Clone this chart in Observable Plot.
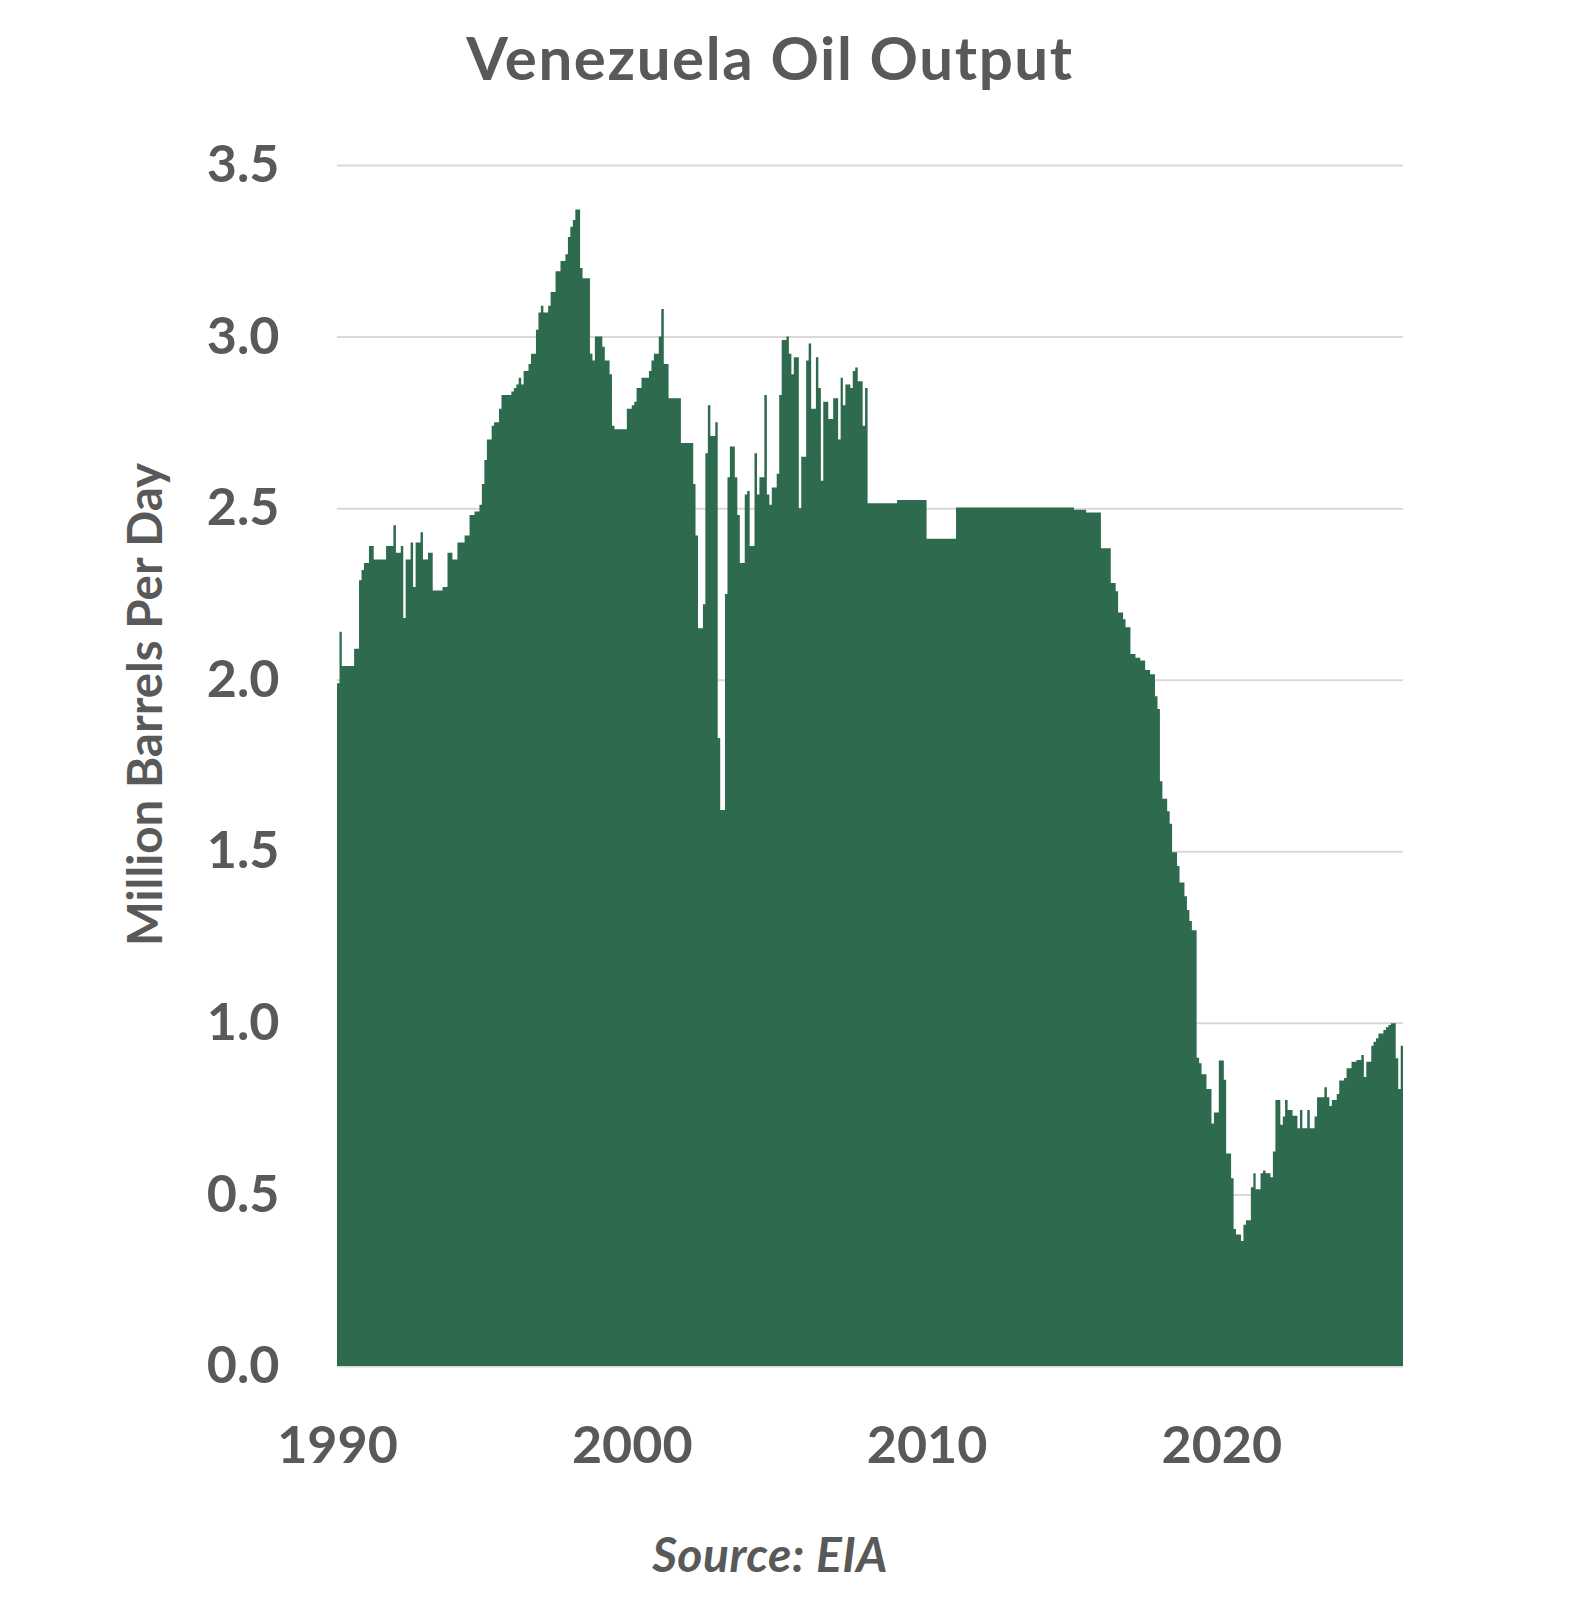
<!DOCTYPE html>
<html>
<head>
<meta charset="utf-8">
<script src="https://cdn.jsdelivr.net/npm/d3@7"></script>
<script src="https://cdn.jsdelivr.net/npm/@observablehq/plot@0.6"></script>
<style>
  body { margin: 0; background: #ffffff; }
  #wrap { position: relative; width: 1584px; height: 1610px; font-family: Lato, sans-serif; color: #595959; }
  #title { position: absolute; left: 770px; top: 21px; transform: translateX(-50%); font-size: 60px; font-weight: 700; white-space: nowrap; letter-spacing: 1.6px; }
  #chart { position: absolute; left: 0; top: 100px; }
  #source { position: absolute; left: 770px; top: 1525px; transform: translateX(-50%); font-size: 48px; font-weight: 700; font-style: italic; white-space: nowrap; letter-spacing: 0.5px; }
</style>
</head>
<body>
<div id="wrap">
  <div id="title">Venezuela Oil Output</div>
  <div id="chart"></div>
  <div id="source">Source: EIA</div>
</div>
<script>
// Monthly output, million barrels per day, starting January 1990
const startYear = 1990;
const output1990s = [
  1.99, 2.14, 2.04, 2.04, 2.04, 2.04, 2.04, 2.09, 2.09, 2.29, 2.32, 2.34,
  2.34, 2.39, 2.39, 2.35, 2.35, 2.35, 2.35, 2.35, 2.39, 2.39, 2.39, 2.45,
  2.37, 2.37, 2.39, 2.18, 2.35, 2.35, 2.40, 2.27, 2.40, 2.40, 2.43, 2.35,
  2.35, 2.37, 2.37, 2.26, 2.26, 2.26, 2.26, 2.27, 2.27, 2.37, 2.37, 2.35,
  2.35, 2.40, 2.40, 2.40, 2.42, 2.42, 2.48, 2.48, 2.49, 2.49, 2.51, 2.57,
  2.64, 2.70, 2.70, 2.74, 2.75, 2.75, 2.79, 2.83, 2.83, 2.83, 2.83, 2.84,
  2.85, 2.86, 2.88, 2.86, 2.90, 2.90, 2.92, 2.95, 2.95, 3.02, 3.07, 3.09,
  3.07, 3.07, 3.09, 3.13, 3.13, 3.19, 3.19, 3.22, 3.22, 3.24, 3.29, 3.32,
  3.34, 3.37, 3.37, 3.20, 3.17, 3.17, 3.17, 2.95, 2.93, 3.00, 3.00, 3.00,
  2.97, 2.93, 2.93, 2.89, 2.74, 2.73, 2.73, 2.73, 2.73, 2.73, 2.79, 2.79
];
const output2000s = [
  2.80, 2.81, 2.85, 2.85, 2.88, 2.88, 2.88, 2.90, 2.93, 2.95, 2.95, 3.00,
  3.08, 2.92, 2.92, 2.82, 2.82, 2.82, 2.82, 2.82, 2.69, 2.69, 2.69, 2.69,
  2.69, 2.57, 2.42, 2.15, 2.15, 2.22, 2.66, 2.80, 2.71, 2.71, 2.75, 1.83,
  1.62, 1.62, 2.25, 2.59, 2.68, 2.68, 2.59, 2.48, 2.34, 2.34, 2.54, 2.55,
  2.39, 2.39, 2.66, 2.54, 2.59, 2.59, 2.83, 2.54, 2.51, 2.56, 2.56, 2.60,
  2.83, 2.99, 2.99, 3.00, 2.95, 2.89, 2.94, 2.94, 2.50, 2.65, 2.65, 2.93,
  2.98, 2.79, 2.79, 2.94, 2.85, 2.58, 2.81, 2.81, 2.76, 2.76, 2.82, 2.82,
  2.70, 2.88, 2.80, 2.86, 2.86, 2.85, 2.90, 2.91, 2.87, 2.87, 2.74, 2.85,
  2.514, 2.514, 2.514, 2.514, 2.514, 2.514, 2.514, 2.514, 2.514, 2.514, 2.514, 2.514,
  2.524, 2.524, 2.524, 2.524, 2.524, 2.524, 2.524, 2.524, 2.524, 2.524, 2.524, 2.524
];
const output2010s = [
  2.411, 2.411, 2.411, 2.411, 2.411, 2.411, 2.411, 2.411, 2.411, 2.411, 2.411, 2.411,
  2.502, 2.502, 2.502, 2.502, 2.502, 2.502, 2.502, 2.502, 2.502, 2.502, 2.502, 2.502,
  2.502, 2.502, 2.502, 2.502, 2.502, 2.502, 2.502, 2.502, 2.502, 2.502, 2.502, 2.502,
  2.502, 2.502, 2.502, 2.502, 2.502, 2.502, 2.502, 2.502, 2.502, 2.502, 2.502, 2.502,
  2.502, 2.502, 2.502, 2.502, 2.502, 2.502, 2.502, 2.502, 2.502, 2.502, 2.502, 2.502,
  2.495, 2.495, 2.495, 2.495, 2.495, 2.487, 2.487, 2.487, 2.487, 2.487, 2.487, 2.383,
  2.383, 2.383, 2.383, 2.282, 2.282, 2.258, 2.196, 2.196, 2.176, 2.153, 2.153, 2.075,
  2.075, 2.064, 2.064, 2.056, 2.056, 2.028, 2.028, 2.016, 2.016, 1.952, 1.915, 1.704,
  1.653, 1.653, 1.617, 1.580, 1.497, 1.497, 1.457, 1.409, 1.409, 1.369, 1.329, 1.297,
  1.270, 1.270, 0.898, 0.882, 0.850, 0.850, 0.807, 0.807, 0.707, 0.739, 0.739, 0.890
];
const output2020s = [
  0.890, 0.834, 0.619, 0.619, 0.547, 0.399, 0.383, 0.383, 0.364, 0.412, 0.425, 0.425,
  0.521, 0.562, 0.515, 0.515, 0.562, 0.570, 0.562, 0.562, 0.550, 0.625, 0.775, 0.775,
  0.703, 0.727, 0.775, 0.746, 0.746, 0.729, 0.729, 0.693, 0.746, 0.693, 0.693, 0.746,
  0.693, 0.693, 0.727, 0.783, 0.783, 0.783, 0.812, 0.783, 0.758, 0.775, 0.775, 0.793,
  0.832, 0.832, 0.839, 0.868, 0.868, 0.887, 0.887, 0.892, 0.892, 0.906, 0.842, 0.887,
  0.887, 0.933, 0.945, 0.955, 0.969, 0.969, 0.979, 0.987, 0.994, 0.999, 0.999, 0.897,
  0.807, 0.933
];
const xTickYears = [1990, 2000, 2010, 2020];
const yTicks = [0, 0.5, 1.0, 1.5, 2.0, 2.5, 3.0, 3.5];
const yLabel = "Million Barrels Per Day";

const values = [...output1990s, ...output2000s, ...output2010s, ...output2020s];
const start = new Date(Date.UTC(startYear, 0, 1));
const series = values.map((v, i) => ({date: d3.utcMonth.offset(start, i), value: v}));
// close the last month so the step covers its full width
series.push({date: d3.utcMonth.offset(series[series.length - 1].date, 1), value: values[values.length - 1]});

const chart = Plot.plot({
  width: 1584,
  height: 1390,
  marginTop: 65,
  marginBottom: 124,
  marginLeft: 337,
  marginRight: 181,
  style: {fontFamily: "Lato, sans-serif", fontSize: "52px", fontWeight: 700, color: "#595959", background: "transparent", overflow: "visible"},
  x: {
    type: "utc",
    domain: d3.extent(series, d => d.date),
    ticks: xTickYears.map(y => new Date(Date.UTC(y, 0, 1))),
    tickFormat: d3.utcFormat("%Y"),
    tickSize: 0,
    tickPadding: 60,
    label: null
  },
  y: {
    domain: [0, 3.5],
    ticks: yTicks,
    tickFormat: d3.format(".1f"),
    tickSize: 0,
    tickPadding: 58,
    label: null
  },
  marks: [
    Plot.gridY(yTicks, {stroke: "#d9d9d9", strokeOpacity: 1, strokeWidth: 2}),
    Plot.areaY(series, {x: "date", y: "value", curve: "step-after", fill: "#2e6b4e"}),
    Plot.text([yLabel], {text: d => d, frameAnchor: "left", rotate: -90, dx: -191, dy: 180, fontSize: 47.5, fontWeight: 700, fill: "#595959"})
  ]
});
document.getElementById("chart").appendChild(chart);
</script>
</body>
</html>
